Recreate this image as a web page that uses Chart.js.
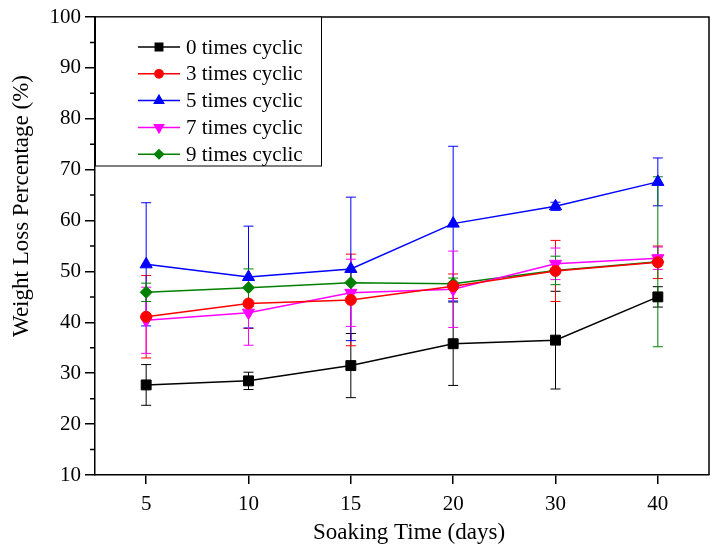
<!DOCTYPE html>
<html lang="en">
<head>
    <meta charset="UTF-8">
    <title>Weight Loss Percentage</title>
    <script src="https://cdn.jsdelivr.net/npm/chart.js"></script>
    <style>
        html, body { margin: 0; padding: 0; background: #fff; }
        .chart-container { width: 717px; height: 559px; }
    </style>
</head>
<body>
    <div class="chart-container">
        <canvas id="lossChart"></canvas>
    </div>

    <script>
        // Soaking time categories (days)
        const days = ['5', '10', '15', '20', '30', '40'];
        const yTicks = [10, 20, 30, 40, 50, 60, 70, 80, 90, 100];

        // Mean weight loss (%) and error (+/-) per number of cycles
        const cyc0 = [27.7, 28.5, 31.5, 35.8, 36.5, 45.0];
        const err0 = [4.0, 1.7, 6.3, 8.2, 9.6, 2.0];
        const cyc3 = [41.1, 43.7, 44.4, 47.1, 50.1, 51.8];
        const err3 = [8.1, 4.9, 9.0, 2.4, 6.0, 3.2];
        const cyc5 = [51.4, 48.9, 50.5, 59.4, 62.8, 67.6];
        const err5 = [12.1, 10.0, 14.1, 15.2, 0.8, 4.7];
        const cyc7 = [40.4, 41.9, 45.8, 46.5, 51.5, 52.6];
        const err7 = [6.5, 6.4, 6.6, 7.5, 3.1, 2.2];
        const cyc9 = [45.9, 46.8, 47.8, 47.6, 50.2, 51.9];
        const err9 = [1.8, 3.7, 2.0, 1.1, 2.8, 16.7];

        const FONT = "'Liberation Serif', 'Times New Roman', serif";

        function series(label, data, errors, color, style, radius, rotation) {
            return {
                label: label,
                data: data,
                errors: errors,
                borderColor: color,
                backgroundColor: color,
                borderWidth: 1.5,
                pointStyle: style,
                pointRadius: radius,
                pointRotation: rotation || 0,
                pointBorderWidth: 1,
                tension: 0
            };
        }

        // error bars, drawn under the markers
        const errorBars = {
            id: 'errorBars',
            beforeDatasetsDraw(chart) {
                const c = chart.ctx;
                const y = chart.scales.y;
                chart.data.datasets.forEach((ds, i) => {
                    const meta = chart.getDatasetMeta(i);
                    c.save();
                    c.strokeStyle = ds.borderColor;
                    c.lineWidth = 1;
                    meta.data.forEach((pt, j) => {
                        const e = ds.errors[j];
                        const top = y.getPixelForValue(ds.data[j] + e);
                        const bot = y.getPixelForValue(ds.data[j] - e);
                        c.beginPath();
                        c.moveTo(pt.x, top); c.lineTo(pt.x, bot);
                        c.moveTo(pt.x - 5, top); c.lineTo(pt.x + 5, top);
                        c.moveTo(pt.x - 5, bot); c.lineTo(pt.x + 5, bot);
                        c.stroke();
                    });
                    c.restore();
                });
            }
        };

        // frame, minor ticks, axis titles and legend box
        const decorations = {
            id: 'decorations',
            afterDraw(chart) {
                const c = chart.ctx;
                const a = chart.chartArea;
                const y = chart.scales.y;
                c.save();
                c.strokeStyle = '#000';
                c.lineWidth = 1.5;
                c.beginPath();
                c.moveTo(a.left, a.top); c.lineTo(a.right, a.top); c.lineTo(a.right, a.bottom);
                c.stroke();

                // minor ticks at the 5s
                c.beginPath();
                for (let v = 15; v < 100; v += 10) {
                    const py = y.getPixelForValue(v);
                    c.moveTo(a.left - 5, py); c.lineTo(a.left, py);
                }
                c.stroke();

                // axis titles
                c.fillStyle = '#000';
                c.font = '23px ' + FONT;
                c.textAlign = 'center';
                c.textBaseline = 'middle';
                c.fillText('Soaking Time (days)', 409, 533);
                c.translate(22, 206);
                c.rotate(-Math.PI / 2);
                c.fillText('Weight Loss Percentage (%)', 0, 0);
                c.restore();

                // legend
                c.save();
                c.fillStyle = '#fff';
                c.fillRect(a.left, a.top, 226, 149);
                c.strokeStyle = '#000';
                c.lineWidth = 1;
                c.strokeRect(a.left + 0.5, a.top, 226, 149);
                c.font = '21px ' + FONT;
                c.textBaseline = 'middle';
                c.textAlign = 'left';
                chart.data.datasets.forEach((ds, i) => {
                    const ly = 47 + i * 26.8;
                    c.strokeStyle = ds.borderColor;
                    c.lineWidth = 1.5;
                    c.beginPath();
                    c.moveTo(138, ly); c.lineTo(180, ly);
                    c.stroke();
                    c.fillStyle = ds.backgroundColor;
                    Chart.helpers.drawPoint(c, {
                        pointStyle: ds.pointStyle,
                        rotation: ds.pointRotation,
                        radius: ds.pointRadius * 0.75,
                        borderWidth: 1
                    }, 159, ly);
                    c.fillStyle = '#000';
                    c.fillText(ds.label, 186, ly + 1);
                });
                c.restore();
            }
        };

        const ctx = document.getElementById('lossChart').getContext('2d');
        const lossChart = new Chart(ctx, {
            type: 'line',
            data: {
                labels: days,
                datasets: [
                    series('0 times cyclic', cyc0, err0, '#000000', 'rect', 7),
                    series('3 times cyclic', cyc3, err3, '#ff0000', 'circle', 5.5),
                    series('5 times cyclic', cyc5, err5, '#0000ff', 'triangle', 7),
                    series('7 times cyclic', cyc7, err7, '#ff00ff', 'triangle', 7, 180),
                    series('9 times cyclic', cyc9, err9, '#008000', 'rectRot', 6)
                ]
            },
            options: {
                responsive: true,
                maintainAspectRatio: false,
                animation: false,
                layout: { padding: { top: 17, right: 8, left: 0, bottom: 0 } },
                plugins: {
                    legend: { display: false },
                    tooltip: { enabled: false }
                },
                scales: {
                    x: {
                        type: 'category',
                        offset: true,
                        grid: { drawOnChartArea: false, color: '#000', lineWidth: 1.5, tickLength: 9, offset: false },
                        border: { color: '#000', width: 1.5 },
                        ticks: { color: '#000', font: { family: FONT, size: 21 }, padding: 8, maxRotation: 0 },
                        afterFit: (s) => { s.height = 84; }
                    },
                    y: {
                        min: 10,
                        max: 100,
                        afterBuildTicks: (s) => { s.ticks = yTicks.map(v => ({ value: v })); },
                        grid: { drawOnChartArea: false, color: '#000', lineWidth: 1.5, tickLength: 10 },
                        border: { color: '#000', width: 1.5 },
                        ticks: { color: '#000', font: { family: FONT, size: 21 }, padding: 4 },
                        afterFit: (s) => { s.width = 95; }
                    }
                }
            },
            plugins: [errorBars, decorations]
        });
    </script>
</body>
</html>
